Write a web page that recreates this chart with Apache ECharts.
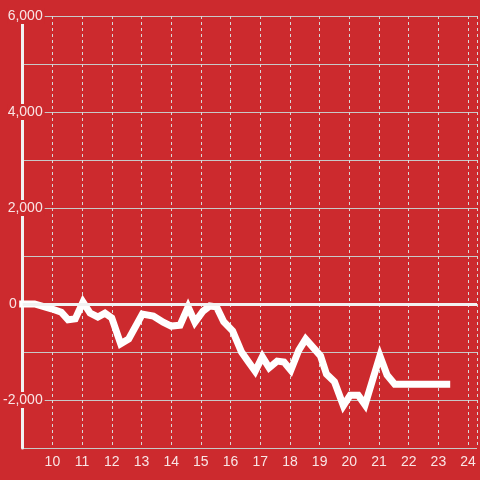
<!DOCTYPE html>
<html>
<head>
<meta charset="utf-8">
<script src="https://cdn.jsdelivr.net/npm/echarts@6/dist/echarts.min.js"></script>
<style>html,body{margin:0;padding:0;background:#cc2a2e;}#c{width:480px;height:480px;}</style>
</head>
<body>
<div id="c"></div>
<script>
const xValues = [9.0, 9.4, 9.97, 10.3, 10.53, 10.77, 11.03, 11.27, 11.53, 11.77, 12.0, 12.3, 12.57, 13.03, 13.4, 13.73, 14.0, 14.3, 14.57, 14.8, 15.07, 15.3, 15.53, 15.77, 16.07, 16.37, 16.63, 16.83, 17.07, 17.3, 17.57, 17.8, 18.03, 18.3, 18.53, 18.8, 19.03, 19.23, 19.5, 19.8, 20.03, 20.3, 20.53, 21.03, 21.27, 21.53, 23.28];
const yValues = [0, 0, -100, -170, -330, -310, 40, -190, -270, -190, -290, -830, -730, -210, -250, -380, -460, -440, -60, -380, -150, -40, -60, -370, -560, -1000, -1230, -1400, -1100, -1330, -1190, -1210, -1380, -960, -730, -920, -1080, -1460, -1620, -2120, -1900, -1900, -2100, -1080, -1480, -1670, -1670];
const xTicks = [10, 11, 12, 13, 14, 15, 16, 17, 18, 19, 20, 21, 22, 23, 24];
const yTickLabels = [-2000, 0, 2000, 4000, 6000];

const bg = '#cc2a2e';
const chart = echarts.init(document.getElementById('c'), null, {renderer: 'canvas'});
chart.setOption({
  backgroundColor: bg,
  animation: false,
  grid: {left: 21, right: 0, top: 16, bottom: 32, containLabel: false},
  xAxis: {
    type: 'value', min: 9, max: 24.3, interval: 1,
    axisLine: {show: false},
    axisTick: {show: false},
    splitLine: {show: true, lineStyle: {color: '#d8d8d8', type: [3, 3], width: 1}},
    axisLabel: {
      color: 'rgba(255,255,255,0.88)', fontSize: 14, fontFamily: 'Liberation Sans', margin: 7,
      formatter: v => xTicks.includes(v) ? String(v) : ''
    }
  },
  yAxis: {
    type: 'value', min: -3000, max: 6000, interval: 1000,
    axisLine: {show: true, lineStyle: {color: '#f2f2f2', width: 3}},
    axisTick: {show: false},
    splitLine: {show: true, lineStyle: {color: '#c8c8c8', width: 1}},
    axisLabel: {
      color: 'rgba(255,255,255,0.88)', fontSize: 14, fontFamily: 'Liberation Sans',
      margin: -22,
      formatter: v => {
        if (!yTickLabels.includes(v)) return '';
        if (v === 0) return '{z|0}';
        return '{b|' + v.toLocaleString('en-US') + '}';
      },
      rich: {
        b: {color: 'rgba(255,255,255,0.88)', fontSize: 14, fontFamily: 'Liberation Sans', backgroundColor: bg, padding: [1, 2, 1, 0]},
        z: {color: 'rgba(255,255,255,0.88)', fontSize: 14, fontFamily: 'Liberation Sans', padding: [1, 28, 1, 0]}
      }
    }
  },
  series: [{
    type: 'line',
    data: xValues.map((x, i) => [x, yValues[i]]),
    showSymbol: false,
    lineStyle: {color: '#ffffff', width: 7, join: 'miter', cap: 'square'},
    z: 3,
    markLine: {
      silent: true, symbol: 'none', label: {show: false},
      lineStyle: {color: '#f2f2f2', width: 3, type: 'solid'},
      data: [{yAxis: 0}]
    }
  }]
});
</script>
</body>
</html>
